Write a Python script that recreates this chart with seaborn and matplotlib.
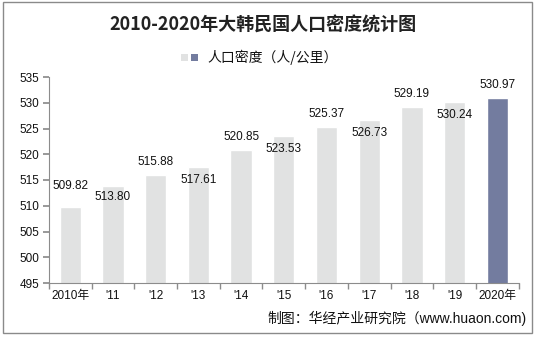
import matplotlib
matplotlib.use("Agg")
import matplotlib.pyplot as plt
import seaborn as sns
import pandas as pd
import numpy as np
from matplotlib.patches import Rectangle

categories = ["2010年", "'11", "'12", "'13", "'14", "'15", "'16", "'17", "'18", "'19", "2020年"]
values = [509.82, 513.80, 515.88, 517.61, 520.85, 523.53, 525.37, 526.73, 529.19, 530.24, 530.97]
value_labels = ["509.82", "513.80", "515.88", "517.61", "520.85", "523.53", "525.37", "526.73", "529.19", "530.24", "530.97"]
yticks = [495, 500, 505, 510, 515, 520, 525, 530, 535]
title = "2010-2020年大韩民国人口密度统计图"
series_name = "人口密度（人/公里）"
source = "制图：华经产业研究院（www.huaon.com)"

# label vertical offsets (px): positive = above bar top
label_dy_px = [21, -11, 13, -13, 13, -13, 13, -13, 13, -13, 13]

GRAY = "#E1E2E2"
SLATE = "#737C9F"
AXC = "#8C8C8C"
W, H = 534, 338

sns.set_theme(style="white")
plt.rcParams['font.family'] = ['Liberation Sans', 'Noto Sans CJK SC', 'DejaVu Sans']

fig = plt.figure(figsize=(W / 100, H / 100), dpi=100)
fig.patch.set_facecolor("white")
ax = fig.add_axes([49 / W, 55 / H, (518.6 - 49) / W, (283 - 77) / H])

df = pd.DataFrame({"cat": categories, "val": values})
palette = {c: GRAY for c in categories}
palette[categories[-1]] = SLATE
sns.barplot(data=df, x="cat", y="val", hue="cat", palette=palette, width=0.5,
            legend=False, ax=ax, saturation=1)

ax.set_ylim(495, 535)
ax.set_xlim(-0.5, len(categories) - 0.5)
ax.set_yticks(yticks)
ax.set_xlabel("")
ax.set_ylabel("")
for s in ["top", "right"]:
    ax.spines[s].set_visible(False)
for s in ["left", "bottom"]:
    ax.spines[s].set_color(AXC)
    ax.spines[s].set_linewidth(0.8)

ax.tick_params(axis="y", which="major", left=True, length=4, color=AXC, labelsize=8.5,
               labelcolor="#111111", pad=3)
ax.tick_params(axis="x", which="major", bottom=False, length=0, labelsize=8.5,
               labelcolor="#111111", pad=5)
ax.set_xticks(np.arange(-0.5, len(categories), 1.0), minor=True)
ax.tick_params(axis="x", which="minor", bottom=True, length=4, color=AXC)

for i, (v, lab, dy) in enumerate(zip(values, value_labels, label_dy_px)):
    ax.annotate(lab, (i, v), xytext=(0, dy * 0.72), textcoords="offset points",
                ha="center", va="center", fontsize=8.5, color="#111111")

fig.text(263 / W, 1 - 25 / H, title, ha="center", va="center", fontsize=13,
         fontweight="bold", family=['Noto Sans CJK SC', 'DejaVu Sans'], color="#222222")

# legend: two colour squares + label
fig.patches.append(Rectangle((181 / W, 1 - 61 / H), 7 / W, 7 / H, transform=fig.transFigure,
                             facecolor=GRAY, edgecolor="none"))
fig.patches.append(Rectangle((191 / W, 1 - 61 / H), 7 / W, 7 / H, transform=fig.transFigure,
                             facecolor=SLATE, edgecolor="none"))
fig.text(207 / W, 1 - 57.5 / H, series_name, ha="left", va="center", fontsize=10,
         family=['Noto Sans CJK SC', 'DejaVu Sans'], color="#111111")

fig.text(527 / W, 1 - 318 / H, source, ha="right", va="center", fontsize=10,
         family=['Liberation Sans', 'Noto Sans CJK SC', 'DejaVu Sans'], color="#111111")

fig.patches.append(Rectangle((3 / W, 1 - 333 / H), 529 / W, 331 / H, transform=fig.transFigure,
                             fill=False, edgecolor="#8A8A8A", linewidth=1))

fig.savefig("out.png", dpi=100)
